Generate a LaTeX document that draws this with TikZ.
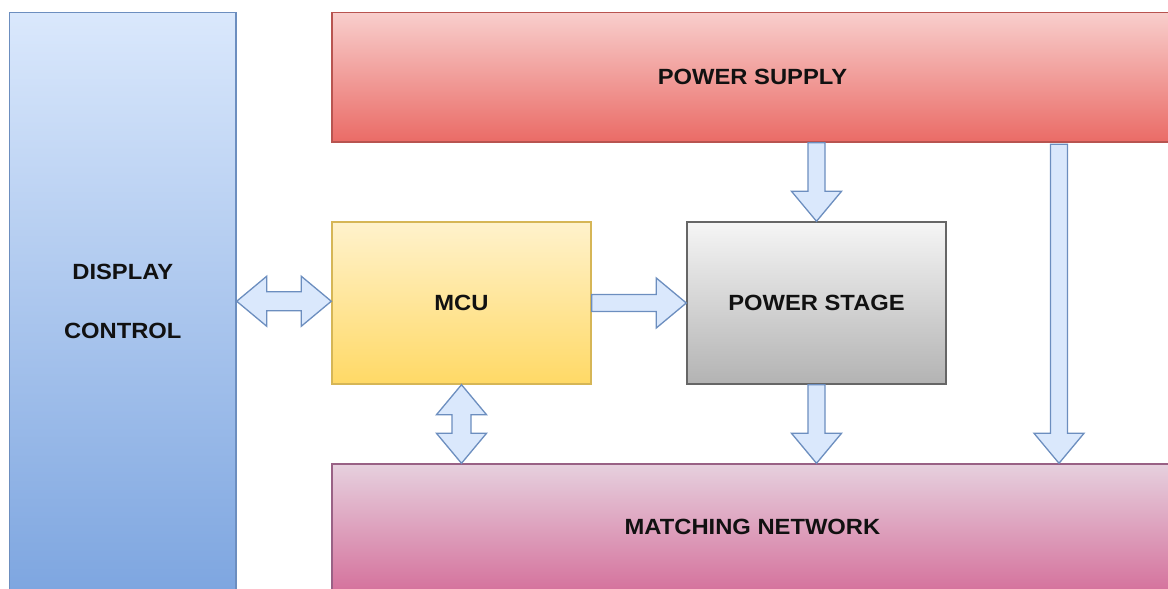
\documentclass[tikz,border=0pt]{standalone}
\usepackage{fontspec}
\setmainfont{Liberation Sans}[FakeStretch=1.08]
\usetikzlibrary{calc}
\definecolor{bluetop}{HTML}{DAE8FC}
\definecolor{bluebot}{HTML}{7EA6E0}
\definecolor{bluestroke}{HTML}{6C8EBF}
\definecolor{redtop}{HTML}{F8CECC}
\definecolor{redbot}{HTML}{EA6B66}
\definecolor{redstroke}{HTML}{B85450}
\definecolor{yeltop}{HTML}{FFF2CC}
\definecolor{yelbot}{HTML}{FFD966}
\definecolor{yelstroke}{HTML}{D6B656}
\definecolor{graytop}{HTML}{F5F5F5}
\definecolor{graybot}{HTML}{B3B3B3}
\definecolor{graystroke}{HTML}{666666}
\definecolor{pinktop}{HTML}{E6D0DE}
\definecolor{pinkbot}{HTML}{D5739D}
\definecolor{pinkstroke}{HTML}{996185}
\definecolor{txt}{HTML}{111111}
\newcommand\ahs{8.5pt}
\newcommand\ahd{9.5pt}
\newcommand\ahh{25pt}
\newcommand\ahl{30pt}
\tikzset{
  box/.style={rectangle, line width=1.4pt, inner sep=0pt, text=txt,
    font=\fontsize{22}{26}\selectfont\bfseries, align=center},
  blockarrow/.style={draw=bluestroke, fill=bluetop, line width=1.3pt, line join=miter},
  arrR/.style={to path={let \p1=(\tikztostart), \p2=(\tikztotarget) in
    (\x1,{\y1+\ahs}) -- ({\x2-\ahl},{\y1+\ahs}) -- ({\x2-\ahl},{\y1+\ahh}) -- (\x2,\y1)
    -- ({\x2-\ahl},{\y1-\ahh}) -- ({\x2-\ahl},{\y1-\ahs}) -- (\x1,{\y1-\ahs}) -- cycle}},
  arrD/.style={to path={let \p1=(\tikztostart), \p2=(\tikztotarget) in
    ({\x1-\ahs},\y1) -- ({\x1-\ahs},{\y2+\ahl}) -- ({\x1-\ahh},{\y2+\ahl}) -- (\x1,\y2)
    -- ({\x1+\ahh},{\y2+\ahl}) -- ({\x1+\ahs},{\y2+\ahl}) -- ({\x1+\ahs},\y1) -- cycle}},
  arrLR/.style={to path={let \p1=(\tikztostart), \p2=(\tikztotarget) in
    (\x1,\y1) -- ({\x1+\ahl},{\y1+\ahh}) -- ({\x1+\ahl},{\y1+\ahd}) -- ({\x2-\ahl},{\y1+\ahd})
    -- ({\x2-\ahl},{\y1+\ahh}) -- (\x2,\y1) -- ({\x2-\ahl},{\y1-\ahh}) -- ({\x2-\ahl},{\y1-\ahd})
    -- ({\x1+\ahl},{\y1-\ahd}) -- ({\x1+\ahl},{\y1-\ahh}) -- cycle}},
  arrUD/.style={to path={let \p1=(\tikztostart), \p2=(\tikztotarget) in
    (\x1,\y1) -- ({\x1+\ahh},{\y1-\ahl}) -- ({\x1+\ahd},{\y1-\ahl}) -- ({\x1+\ahd},{\y2+\ahl})
    -- ({\x1+\ahh},{\y2+\ahl}) -- (\x1,\y2) -- ({\x1-\ahh},{\y2+\ahl}) -- ({\x1-\ahd},{\y2+\ahl})
    -- ({\x1-\ahd},{\y1-\ahl}) -- ({\x1-\ahh},{\y1-\ahl}) -- cycle}},
}
\begin{document}
\begin{tikzpicture}[x=1pt,y=1pt]
\useasboundingbox (0,0) rectangle (1168,589);
\clip (0,0) rectangle (1168,589);
\node[box, draw=bluestroke, top color=bluetop, bottom color=bluebot,
  minimum width=226.5pt, minimum height=577.5pt] (disp) at (122.75,287.75)
  {DISPLAY\\[33pt]CONTROL};
\node[box, draw=redstroke, top color=redtop, bottom color=redbot,
  minimum width=841pt, minimum height=129.5pt] (psup) at (752.5,511.75) {POWER SUPPLY};
\node[box, draw=yelstroke, top color=yeltop, bottom color=yelbot,
  minimum width=259pt, minimum height=162pt] (mcu) at (461.5,286) {MCU};
\node[box, draw=graystroke, top color=graytop, bottom color=graybot,
  minimum width=259pt, minimum height=162pt] (pst) at (816.5,286) {POWER STAGE};
\node[box, draw=pinkstroke, top color=pinktop, bottom color=pinkbot,
  minimum width=841pt, minimum height=126pt] (match) at (752.5,62) {MATCHING NETWORK};
\coordinate (rtop) at ($(psup.south)+(306.5,-1.5)$);
\coordinate (rbot) at ($(match.north)+(306.5,0)$);
\path[blockarrow] (disp.east) to[arrLR] (mcu.west);
\path[blockarrow] (mcu.south) to[arrUD] (match.north);
\path[blockarrow] (mcu.east) to[arrR] (pst.west);
\path[blockarrow] (psup.south -| pst.north) to[arrD] (pst.north);
\path[blockarrow] (pst.south) to[arrD] (match.north -| pst.south);
\path[blockarrow] (rtop) to[arrD] (rbot);
\end{tikzpicture}
\end{document}
